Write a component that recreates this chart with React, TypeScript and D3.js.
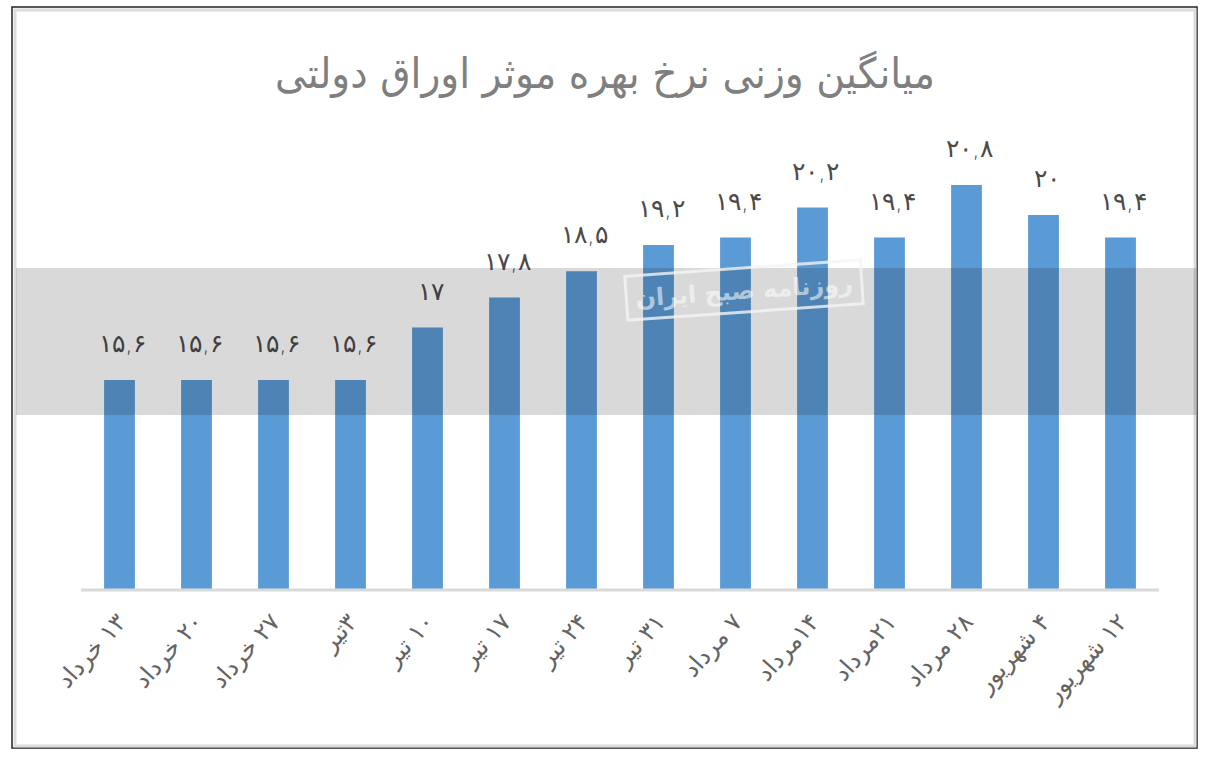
import * as d3 from "d3";

const categories = [
  "۱۳ خرداد", "۲۰ خرداد", "۲۷ خرداد", "۳تیر", "۱۰ تیر", "۱۷ تیر", "۲۴ تیر",
  "۳۱ تیر", "۷ مرداد", "۱۴مرداد", "۲۱مرداد", "۲۸ مرداد", "۴ شهریور", "۱۲ شهریور",
];
const values = [15.6, 15.6, 15.6, 15.6, 17, 17.8, 18.5, 19.2, 19.4, 20.2, 19.4, 20.8, 20, 19.4];
const valueLabels = [
  "۱۵,۶", "۱۵,۶", "۱۵,۶", "۱۵,۶", "۱۷", "۱۷,۸", "۱۸,۵",
  "۱۹,۲", "۱۹,۴", "۲۰,۲", "۱۹,۴", "۲۰,۸", "۲۰", "۱۹,۴",
];
const title = "میانگین وزنی نرخ بهره موثر اوراق دولتی";
const yDomain = [10, 22];

const W = 1207;
const H = 762;
const font = "'DejaVu Sans', sans-serif";

export default function App() {
  const x = d3.scaleBand<string>().domain(categories).range([81, 1159]).paddingInner(0.6).paddingOuter(0.3);
  const y = d3.scaleLinear().domain(yDomain).range([590, 140]);
  const base = y(yDomain[0]);

  return (
    <svg width={W} height={H} style={{ position: "absolute", left: 0, top: 0, background: "#fff" }}>
      {/* frame */}
      <rect x={12} y={7} width={1185} height={741} fill="#fff" stroke="#222" strokeWidth={1.5} />
      <rect x={15} y={10} width={1180} height={736} fill="none" stroke="#dcdcdc" strokeWidth={3} />

      <text x={605} y={88} textAnchor="middle" fontFamily={font} fontSize={42} fill="#7f7f7f"
        textLength={660} lengthAdjust="spacingAndGlyphs">{title}</text>

      {/* bars */}
      {values.map((v, i) => (
        <rect key={i} x={x(categories[i])} y={y(v)} width={x.bandwidth()} height={base - y(v)} fill="#5b9bd5" />
      ))}

      {/* value labels */}
      {values.map((v, i) => (
        <text key={i} x={(x(categories[i]) ?? 0) + x.bandwidth() / 2 + 3} y={y(v) - 28}
          textAnchor="middle" fontFamily={font} fontSize={25} fontWeight={300} letterSpacing={7} fill="#4a4a4a">
          {valueLabels[i]}
        </text>
      ))}

      {/* watermark band */}
      <rect x={16} y={268} width={1180} height={147} fill="#000" fillOpacity={0.15} />
      <g transform="translate(744,290) rotate(-4)">
        <rect x={-118} y={-22} width={236} height={44} fill="none" stroke="#f4f4f4" strokeWidth={3} opacity={0.8} />
        <text x={0} y={9} textAnchor="middle" fontFamily={font} fontSize={24} fontWeight="bold" fill="#ffffff" opacity={0.55}>
          روزنامه صبح ایران
        </text>
      </g>

      {/* axis line */}
      <line x1={81} x2={1159} y1={base} y2={base} stroke="#d9d9d9" strokeWidth={3} />

      {/* category labels */}
      {categories.map((c, i) => {
        const cx = (x(c) ?? 0) + x.bandwidth() / 2 + 8;
        return (
          <text key={i} transform={`translate(${cx},${base + 33}) rotate(-48)`} textAnchor="end"
            fontFamily={font} fontSize={24} fill="#646464">
            {"\u200F" + c}
          </text>
        );
      })}
    </svg>
  );
}
